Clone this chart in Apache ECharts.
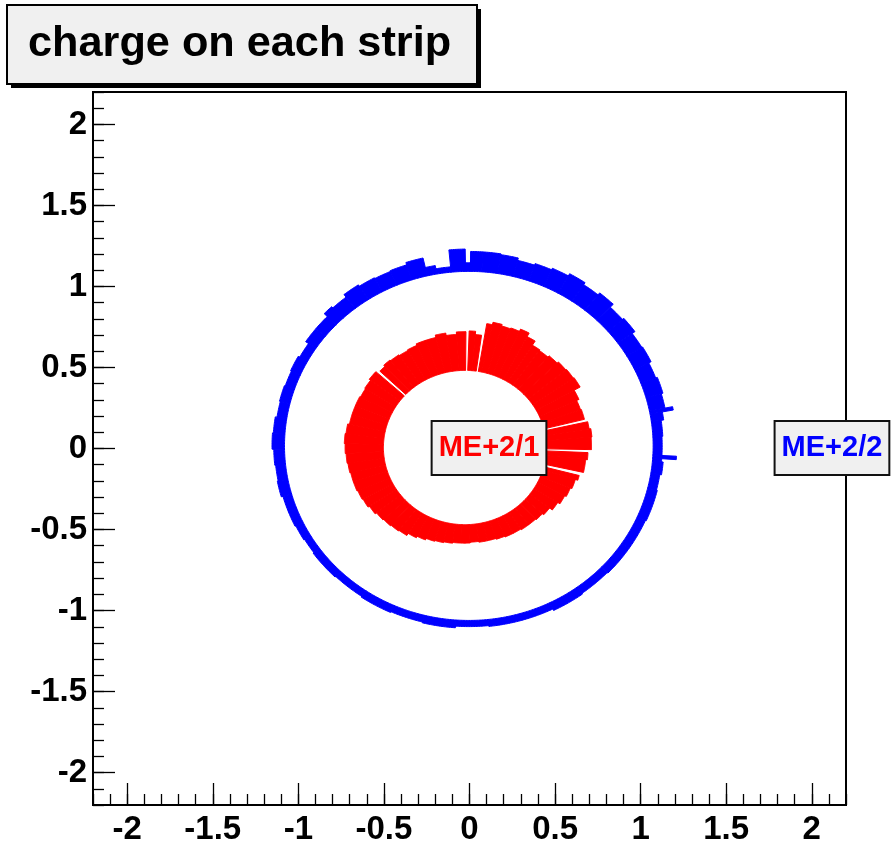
<!DOCTYPE html>
<html>
<head>
<meta charset="utf-8">
<script src="https://cdn.jsdelivr.net/npm/echarts@6/dist/echarts.min.js"></script>
<style>
html,body{margin:0;padding:0;background:#fff;}
#c{width:891px;height:849px;}
</style>
</head>
<body>
<div id="c"></div>
<script>
// ---- data ----
const titleText = 'charge on each strip';

// ME+2/1 (red): strip-group start angles (deg) and the radius reached (inner radius + charge)
const redInnerR = 0.476;
const redCenter = [-0.027, 0.006];
const redStartDeg = [-14.5, -12.5, -6, -2.5, -1, 5, 9, 12.5, 14, 19, 24, 29, 34, 39, 44, 49, 54, 58, 62, 66, 70, 74, 78, 80.5, 82, 85, 88, 89.5, 94, 99, 104, 109, 114, 119, 124, 129, 133, 136.5, 138, 143, 148, 153, 158, 163, 168, 173, 178, 183, 188, 193, 198, 203, 208, 213, 218, 223, 228, 233, 238, 243, 248, 253, 258, 263, 268, 273, 278, 283, 288, 293, 298, 303, 308, 313, 318, 323, 328, 333, 338, 343];
const redOuterR = [0.476, 0.71, 0.72, 0.476, 0.74, 0.745, 0.735, 0.476, 0.72, 0.715, 0.73, 0.77, 0.765, 0.76, 0.75, 0.74, 0.745, 0.775, 0.80, 0.785, 0.78, 0.79, 0.775, 0.476, 0.70, 0.72, 0.476, 0.715, 0.70, 0.715, 0.70, 0.70, 0.69, 0.685, 0.69, 0.695, 0.685, 0.476, 0.70, 0.69, 0.685, 0.69, 0.69, 0.69, 0.70, 0.705, 0.70, 0.695, 0.69, 0.685, 0.685, 0.68, 0.675, 0.665, 0.655, 0.65, 0.645, 0.64, 0.625, 0.615, 0.605, 0.60, 0.595, 0.59, 0.59, 0.585, 0.59, 0.59, 0.595, 0.60, 0.60, 0.605, 0.605, 0.61, 0.62, 0.64, 0.655, 0.665, 0.675, 0.69];

// ME+2/2 (blue)
const blueInnerR = 1.077;
const blueCenter = [-0.004, 0.016];
const blueStartDeg = [-5, -4, -3, 3, 8, 10.5, 11.5, 16, 21, 26, 31, 36, 41, 46, 51, 56, 61, 66, 71, 76, 81, 86, 89.5, 91, 95.5, 100, 103, 108, 113, 118, 123, 128, 133, 136, 141, 146, 151, 156, 161, 166, 171, 176, 181, 186, 191, 196, 201, 206, 211, 216, 226, 236, 246, 256, 266, 276, 286, 296, 306, 316, 326, 336, 346, 351];
const blueOuterR = [1.13, 1.215, 1.13, 1.135, 1.15, 1.215, 1.17, 1.18, 1.17, 1.185, 1.18, 1.20, 1.19, 1.215, 1.20, 1.215, 1.20, 1.19, 1.18, 1.195, 1.20, 1.20, 1.13, 1.215, 1.11, 1.13, 1.19, 1.175, 1.17, 1.175, 1.185, 1.165, 1.175, 1.15, 1.15, 1.13, 1.14, 1.135, 1.14, 1.135, 1.145, 1.15, 1.14, 1.135, 1.14, 1.13, 1.13, 1.125, 1.12, 1.125, 1.12, 1.125, 1.12, 1.125, 1.115, 1.12, 1.12, 1.13, 1.125, 1.13, 1.13, 1.135, 1.13, 1.14];

// annotation boxes
const labelText = ['ME+2/1', 'ME+2/2'];
const labelX = [0.114, 2.118];
const labelY = [0.003, 0.003];
const labelColor = ['#ff0000', '#0000ff'];

const axisMin = -2.2, axisMax = 2.2;

// ---- build ----
function segments(starts, outers, inner, center) {
  const out = [];
  const n = Math.min(starts.length, outers.length);
  for (let i = 0; i < n; i++) {
    const a0 = starts[i];
    const a1 = (i + 1 < n) ? starts[i + 1] : starts[0] + 360;
    out.push([a0, a1, inner, outers[i], center[0], center[1]]);
  }
  return out;
}

function makeRender(color) {
  return function (params, api) {
    const a0 = api.value(0), a1 = api.value(1);
    const rIn = api.value(2), rOut = api.value(3);
    const cx = api.value(4), cy = api.value(5);
    if (!(rOut > rIn)) return null;
    const n = Math.max(2, Math.ceil((a1 - a0) / 0.5));
    const pts = [];
    for (let i = 0; i <= n; i++) {
      const t = (a0 + (a1 - a0) * i / n) * Math.PI / 180;
      pts.push(api.coord([cx + rOut * Math.cos(t), cy + rOut * Math.sin(t)]));
    }
    for (let i = n; i >= 0; i--) {
      const t = (a0 + (a1 - a0) * i / n) * Math.PI / 180;
      pts.push(api.coord([cx + rIn * Math.cos(t), cy + rIn * Math.sin(t)]));
    }
    return {
      type: 'polygon',
      shape: { points: pts },
      style: { fill: color, stroke: color, lineWidth: 1, lineJoin: 'miter' }
    };
  };
}

const FONT = '"Liberation Sans", Arial, Helvetica, sans-serif';
const tickLabel = { fontFamily: FONT, fontWeight: 'bold', fontSize: 33, color: '#000' };

function minorAxis(pos) {
  return {
    type: 'value', position: pos, min: axisMin, max: axisMax, interval: 0.1,
    axisLine: { show: true, onZero: false, lineStyle: { color: '#000', width: 2 } },
    axisTick: { show: true, inside: true, length: 11, lineStyle: { color: '#000', width: 1.3 } },
    axisLabel: { show: false },
    splitLine: { show: false }
  };
}
function majorAxis(pos, margin) {
  return {
    type: 'value', position: pos, min: axisMin, max: axisMax, splitNumber: 8,
    axisLine: { show: false, onZero: false },
    axisTick: { show: true, inside: true, length: 22, lineStyle: { color: '#000', width: 1.3 } },
    axisLabel: Object.assign({ show: true, showMinLabel: false, showMaxLabel: false, margin: margin }, tickLabel),
    splitLine: { show: false }
  };
}

const chart = echarts.init(document.getElementById('c'), null, { renderer: 'canvas' });

const option = {
  backgroundColor: '#ffffff',
  animation: false,
  grid: {
    left: 93, right: 45, top: 92, bottom: 44,
    show: true, backgroundColor: '#ffffff', borderColor: '#000', borderWidth: 2
  },
  xAxis: [minorAxis('bottom'), majorAxis('bottom', 8)],
  yAxis: [minorAxis('left'), majorAxis('left', 6)],
  graphic: [
    { type: 'rect', shape: { x: 11, y: 9, width: 470, height: 79 }, style: { fill: '#000' }, z: 10 },
    { type: 'rect', shape: { x: 7, y: 5, width: 470, height: 79 }, style: { fill: '#f0f0f0', stroke: '#000', lineWidth: 2 }, z: 11 },
    { type: 'text', x: 28, y: 44, scaleX: 1.03, z: 12,
      style: { text: titleText, font: 'bold 42px ' + FONT, fill: '#000', verticalAlign: 'middle', align: 'left' } }
  ],
  series: [
    {
      type: 'custom', name: 'ME+2/2', xAxisIndex: 0, yAxisIndex: 0,
      renderItem: makeRender('#0000ff'),
      data: segments(blueStartDeg, blueOuterR, blueInnerR, blueCenter),
      encode: { x: 4, y: 5 }, z: 2, silent: true
    },
    {
      type: 'custom', name: 'ME+2/1', xAxisIndex: 0, yAxisIndex: 0,
      renderItem: makeRender('#ff0000'),
      data: segments(redStartDeg, redOuterR, redInnerR, redCenter),
      encode: { x: 4, y: 5 }, z: 3, silent: true
    },
    {
      type: 'scatter', xAxisIndex: 0, yAxisIndex: 0, symbolSize: 0, z: 5, silent: true,
      itemStyle: { opacity: 1 },
      data: labelText.map((t, i) => ({
        name: t, value: [labelX[i], labelY[i]],
        label: { color: labelColor[i] }
      })),
      label: {
        show: true, position: 'inside', formatter: '{b}', opacity: 1,
        fontFamily: FONT, fontWeight: 'bold', fontSize: 29, lineHeight: 30,
        backgroundColor: '#f0f0f0', borderColor: '#111', borderWidth: 2,
        padding: [11, 6, 11, 6]
      }
    }
  ]
};
chart.setOption(option);
</script>
</body>
</html>
